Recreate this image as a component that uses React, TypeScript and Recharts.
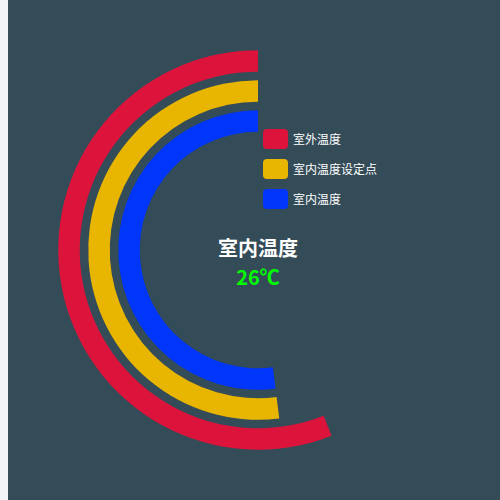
import React from 'react';
import { RadialBarChart, RadialBar, PolarAngleAxis, PolarRadiusAxis, Cell, Legend } from 'recharts';

// data (innermost first)
const categories = ['室内温度', '室内温度设定点', '室外温度'];
const values = [26, 26, 28];
const colors = ['#0035fa', '#e8b600', '#dc143c'];
const maxValue = 50;
const legendOrder = [2, 1, 0];
const centerTitle = '室内温度';
const centerValue = '26℃';

const data = categories.map((name, i) => ({ name, value: values[i] }));

const FONT = '"Noto Sans CJK SC", "Noto Sans", sans-serif';

const renderLegend = () => (
  <div style={{ fontFamily: FONT }}>
    {legendOrder.map((idx) => (
      <div key={categories[idx]} style={{ display: 'flex', alignItems: 'center', height: 20, marginBottom: 10 }}>
        <div style={{ width: 25, height: 20, borderRadius: 4, background: colors[idx] }} />
        <span style={{ color: '#ffffff', fontSize: 12, marginLeft: 5, lineHeight: '20px' }}>{categories[idx]}</span>
      </div>
    ))}
  </div>
);

export default function App() {
  return (
    <div style={{ position: 'fixed', left: 0, top: 0, width: 500, height: 500, overflow: 'hidden', background: '#f1f3f9' }}>
      <div style={{ position: 'absolute', left: 8, top: 0, width: 500, height: 500, background: '#344b58' }}>
        <RadialBarChart
          width={500}
          height={500}
          cx={250}
          cy={250}
          innerRadius={114.25}
          outerRadius={204.25}
          barSize={21.5}
          startAngle={90}
          endAngle={450}
          data={data}
        >
          <PolarAngleAxis type="number" domain={[0, maxValue]} tick={false} axisLine={false} />
          <PolarRadiusAxis type="category" dataKey="name" tick={false} axisLine={false} tickLine={false} />
          <RadialBar dataKey="value" isAnimationActive={false}>
            {data.map((d, i) => (
              <Cell key={d.name} fill={colors[i]} />
            ))}
          </RadialBar>
          <Legend
            content={renderLegend}
            wrapperStyle={{ position: 'absolute', left: 255, top: 129, width: 'auto' }}
          />
        </RadialBarChart>
        <div
          style={{
            position: 'absolute',
            left: 150,
            width: 200,
            top: 237,
            textAlign: 'center',
            fontFamily: FONT,
            fontWeight: 'bold',
            fontSize: 20,
            lineHeight: '22px',
            color: '#ffffff',
          }}
        >
          {centerTitle}
        </div>
        <div
          style={{
            position: 'absolute',
            left: 150,
            width: 200,
            top: 266,
            textAlign: 'center',
            fontFamily: FONT,
            fontWeight: 'bold',
            fontSize: 20,
            lineHeight: '22px',
            color: '#00ff00',
          }}
        >
          {centerValue}
        </div>
      </div>
    </div>
  );
}
